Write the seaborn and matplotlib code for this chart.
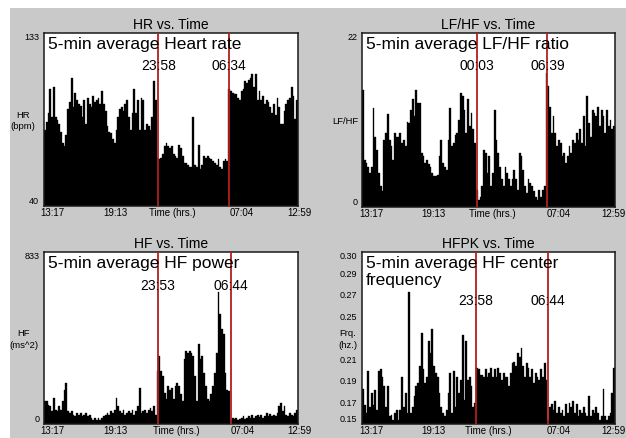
import numpy as np
import pandas as pd
import matplotlib
matplotlib.use("Agg")
import matplotlib.pyplot as plt
import seaborn as sns
from matplotlib.patches import Rectangle

# ---------------- data ----------------
start_time = "13:17"
end_time = "12:59"
x_tick_labels = ["13:17", "19:13", "Time (hrs.)", "07:04", "12:59"]

hr_values = [81, 85, 90, 103, 88, 104, 88, 86, 84, 80,
             74, 72, 78, 92, 96, 109, 93, 101, 97, 95,
             94, 88, 97, 84, 98, 95, 93, 99, 96, 97,
             98, 95, 102, 95, 91, 83, 80, 79, 76, 74,
             81, 88, 92, 93, 91, 95, 97, 88, 81, 90,
             103, 90, 97, 81, 98, 97, 81, 84, 83, 81,
             88, 107, 97, 66, 65, 66, 68, 72, 74, 72,
             71, 72, 68, 67, 66, 73, 71, 67, 63, 63,
             62, 61, 61, 88, 62, 61, 73, 60, 62, 67,
             66, 67, 66, 65, 64, 63, 62, 65, 61, 60,
             64, 65, 64, 103, 102, 101, 100, 100, 98, 97,
             102, 103, 107, 106, 108, 109, 111, 104, 111, 97,
             102, 97, 99, 95, 97, 96, 93, 90, 95, 89,
             98, 93, 84, 84, 91, 95, 97, 98, 104, 99,
             87, 97]

lfhf_values = [14.8, 6.0, 5.6, 5.1, 4.3, 5.1, 12.5, 8.9, 7.2, 4.3,
               2.6, 2.0, 8.5, 9.4, 11.7, 8.5, 7.7, 6.0, 9.4, 8.9,
               8.9, 9.4, 8.1, 8.5, 7.7, 10.8, 10.6, 12.3, 13.6, 11.5,
               14.8, 13.2, 13.2, 6.8, 6.4, 5.6, 6.0, 5.4, 5.1, 4.3,
               3.9, 3.9, 4.1, 6.4, 8.5, 5.6, 5.1, 4.7, 8.5, 12.5,
               7.7, 8.1, 9.1, 9.4, 11.0, 14.4, 14.0, 12.3, 9.4, 13.6,
               10.2, 11.9, 9.8, 8.1, 2.2, 0.9, 1.3, 2.6, 7.2, 6.8,
               4.3, 6.4, 2.6, 4.3, 12.3, 8.5, 6.8, 5.1, 3.5, 2.6,
               5.1, 4.3, 3.5, 2.6, 3.5, 4.7, 3.5, 2.2, 6.8, 6.4,
               4.7, 2.6, 1.8, 3.5, 3.0, 2.6, 2.0, 1.3, 0.9, 2.2,
               1.3, 2.2, 2.6, 16.9, 15.3, 12.7, 9.4, 11.5, 9.4, 7.7,
               8.5, 8.1, 6.4, 6.8, 5.6, 6.4, 7.7, 6.8, 8.5, 8.1,
               9.4, 8.5, 9.8, 8.1, 11.5, 7.7, 14.0, 10.6, 8.9, 12.3,
               11.9, 11.5, 12.7, 10.2, 12.3, 11.5, 9.4, 12.3, 10.2, 11.0,
               9.8, 10.2]

hf_values = [110, 110, 94, 86, 62, 127, 70, 62, 86, 70,
             110, 167, 200, 62, 54, 62, 45, 37, 54, 45,
             54, 37, 45, 54, 37, 45, 29, 21, 29, 21,
             29, 21, 29, 37, 45, 54, 45, 62, 54, 70,
             127, 86, 62, 54, 70, 45, 54, 62, 54, 70,
             45, 62, 86, 175, 54, 62, 70, 54, 70, 78,
             62, 86, 45, 257, 330, 257, 232, 151, 119, 184,
             167, 175, 119, 184, 200, 184, 143, 110, 313, 354,
             346, 354, 346, 330, 232, 110, 386, 313, 330, 248,
             184, 119, 110, 143, 184, 248, 346, 638, 533, 460,
             435, 248, 167, 159, 21, 29, 25, 29, 21, 25,
             29, 37, 25, 29, 37, 29, 45, 29, 37, 45,
             34, 45, 29, 40, 54, 37, 48, 37, 45, 37,
             54, 86, 102, 62, 86, 45, 37, 54, 45, 37,
             54, 70]

hfpk_values = [0.183, 0.168, 0.160, 0.199, 0.166, 0.179, 0.168, 0.182, 0.163, 0.199,
               0.201, 0.194, 0.185, 0.166, 0.185, 0.157, 0.158, 0.154, 0.160, 0.163,
               0.154, 0.163, 0.194, 0.166, 0.179, 0.160, 0.2725, 0.160, 0.166, 0.176,
               0.185, 0.188, 0.204, 0.235, 0.201, 0.188, 0.194, 0.227, 0.216, 0.238,
               0.204, 0.1975, 0.194, 0.179, 0.166, 0.160, 0.157, 0.163, 0.179, 0.1975,
               0.160, 0.199, 0.166, 0.194, 0.179, 0.191, 0.233, 0.1725, 0.227, 0.191,
               0.194, 0.185, 0.166, 0.170, 0.202, 0.201, 0.196, 0.196, 0.194, 0.201,
               0.194, 0.1975, 0.202, 0.194, 0.201, 0.194, 0.202, 0.1975, 0.191, 0.1975,
               0.194, 0.194, 0.185, 0.1975, 0.207, 0.208, 0.204, 0.216, 0.212, 0.221,
               0.204, 0.194, 0.207, 0.202, 0.194, 0.201, 0.188, 0.1975, 0.194, 0.191,
               0.201, 0.194, 0.207, 0.191, 0.154, 0.166, 0.169, 0.163, 0.171, 0.160,
               0.166, 0.160, 0.163, 0.157, 0.169, 0.160, 0.170, 0.166, 0.171, 0.160,
               0.169, 0.157, 0.163, 0.160, 0.166, 0.160, 0.157, 0.176, 0.157, 0.163,
               0.160, 0.166, 0.160, 0.154, 0.157, 0.183, 0.157, 0.154, 0.157, 0.160,
               0.179, 0.202]

titles = ["HR vs. Time", "LF/HF vs. Time", "HF vs. Time", "HFPK vs. Time"]
captions = ["5-min average Heart rate", "5-min average LF/HF ratio",
            "5-min average HF power", "5-min average HF center\nfrequency"]
y_labels = ["HR\n(bpm)", "LF/HF", "HF\n(ms^2)", "Frq.\n(hz.)"]
marks = [["23:58", "06:34"], ["00:03", "06:39"], ["23:53", "06:44"], ["23:58", "06:44"]]
y_limits = [(40, 133), (0, 22), (0, 833), (0.15, 0.31)]
y_tick_values = [[40, 133], [0, 22], [0, 833],
                 [0.15, 0.17, 0.19, 0.21, 0.25, 0.27, 0.29, 0.31]]
y_tick_texts = [["40", "133"], ["0", "22"], ["0", "833"],
                ["0.15", "0.17", "0.19", "0.21", "0.25", "0.27", "0.29", "0.30"]]
series = [hr_values, lfhf_values, hf_values, hfpk_values]

# ---------------- style ----------------
sns.set_style("white")
plt.rcParams["font.family"] = ["Liberation Sans", "DejaVu Sans"]
plt.rcParams["text.color"] = "black"
plt.rcParams["ytick.color"] = "black"
plt.rcParams["axes.titlecolor"] = "black"

W, H = 626, 438
fig = plt.figure(figsize=(W / 100, H / 100), dpi=100, facecolor="white")
fig.patches.append(Rectangle((10 / W, 0), 1 - 10 / W, 1 - 8 / H,
                             transform=fig.transFigure, facecolor="#c9c9c9",
                             edgecolor="none", zorder=-10))


def to_hours(t):
    h0, m0 = map(int, start_time.split(":"))
    h, m = map(int, t.split(":"))
    return ((h * 60 + m) - (h0 * 60 + m0)) % 1440 / 60.0


span = to_hours(end_time)

# axes boxes in pixels: left, top, right, bottom
boxes = [(44, 33, 298, 206), (362, 33, 615, 207),
         (44, 252, 298, 424), (362, 252, 615, 424)]
ylab_x = [-0.083, -0.067, -0.079, -0.055]
time_lab_y = [0.809, 0.809, 0.802, 0.715]
xlab_fracs = [[0.033, 0.281, 0.505, 0.78, 1.006],
              [0.039, 0.281, 0.515, 0.777, 0.993],
              [0.033, 0.281, 0.52, 0.784, 1.006],
              [0.039, 0.281, 0.50, 0.777, 0.993]]

for k in range(4):
    l, t, r, b = boxes[k]
    ax = fig.add_axes([l / W, 1 - b / H, (r - l) / W, (b - t) / H])
    ax.set_facecolor("white")
    vals = np.array(series[k], dtype=float)
    n = len(vals)
    step = span / n
    df = pd.DataFrame({"t": (np.arange(n) + 0.5) * step, "v": vals})
    sns.histplot(data=df, x="t", weights="v", bins=n, binrange=(0, span),
                 element="bars", fill=True, color="black", alpha=1,
                 edgecolor="black", linewidth=0.25, ax=ax)
    ax.set_xlim(0, span)
    ax.set_ylim(*y_limits[k])
    ax.set_xlabel("")
    ax.set_ylabel("")
    ax.set_xticks([])
    ax.set_yticks(y_tick_values[k])
    ax.set_yticklabels(y_tick_texts[k], fontsize=6.5, color="black")
    tl = ax.get_yticklabels()
    tl[0].set_va("bottom")
    tl[-1].set_va("top")
    ax.tick_params(axis="y", length=0, pad=3.5)
    for s in ax.spines.values():
        s.set_color("#1a1a1a")
        s.set_linewidth(1.1)
    ax.set_title(titles[k], fontsize=10, pad=3)

    for mk in marks[k]:
        xm = to_hours(mk)
        ax.axvline(xm, color="#b3201c", lw=1.3, zorder=5)
        ax.text(xm, y_limits[k][0] + time_lab_y[k] * (y_limits[k][1] - y_limits[k][0]),
                mk, ha="center", va="center", fontsize=10, zorder=6)

    ax.text(0.016, 0.977, captions[k], transform=ax.transAxes, ha="left", va="top",
            fontsize=12.5, linespacing=1.15, zorder=6)
    ax.text(ylab_x[k], 0.49, y_labels[k], transform=ax.transAxes, ha="center",
            va="center", fontsize=6.8, linespacing=1.35)
    for fx, lab in zip(xlab_fracs[k], x_tick_labels):
        ax.text(fx, -0.042, lab, transform=ax.transAxes, ha="center", va="center",
                fontsize=7, clip_on=False)

fig.savefig("out.png", dpi=100, facecolor="white")
